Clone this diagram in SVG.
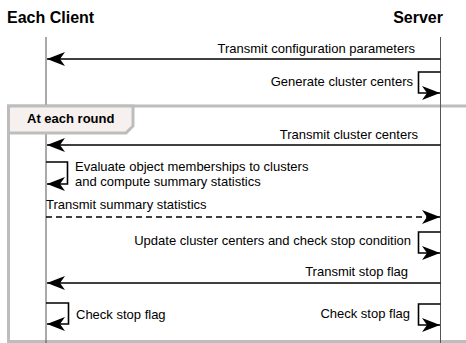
<svg xmlns="http://www.w3.org/2000/svg" width="466" height="343" viewBox="0 0 466 343">
<style>
text{font-family:"Liberation Sans",Arial,Helvetica,sans-serif;fill:#000}
.title{font-size:16px;font-weight:bold}
.lbl{font-size:13px}
.r{text-anchor:end}
.life{stroke:#555;stroke-width:1;fill:none}
.msg{stroke:#000;stroke-width:1.6;fill:none;marker-end:url(#arr)}
.dash{stroke-dasharray:6 4}
</style>
<defs>
<marker id="arr" markerUnits="userSpaceOnUse" markerWidth="19" markerHeight="15" refX="18" refY="7" orient="auto" viewBox="0 0 19 15">
<path d="M18,7 L0,0 L5,7 L0,14 Z" fill="#000"/>
</marker>
</defs>
<rect x="8.5" y="106" width="460" height="235.5" fill="#fff" stroke="#bdbdbd" stroke-width="3"/>
<g id="client">
<text class="title" x="7" y="23">Each Client</text>
<line class="life" x1="46" y1="37" x2="46" y2="343"/>
</g>
<g id="server">
<text class="title r" x="443" y="23">Server</text>
<line class="life" x1="440.5" y1="37" x2="440.5" y2="343"/>
</g>
<g id="frame">
<path d="M8.5,106 H133 V126 L126,133 H8.5 Z" fill="#f6f0ee" stroke="#bdbdbd" stroke-width="3"/>
<text x="27" y="123" style="font-size:13px;font-weight:bold">At each round</text>
</g>
<g id="connectors">
<path class="msg" d="M440.5,59 H47"/>
<text class="lbl r" x="415" y="53">Transmit configuration parameters</text>
<path class="msg" d="M440.5,72 H418.5 V93 H440"/>
<text class="lbl r" x="413" y="86">Generate cluster centers</text>
<path class="msg" d="M440.5,145 H47"/>
<text class="lbl r" x="418" y="139">Transmit cluster centers</text>
<path class="msg" d="M46,162 H67.5 V184 H47"/>
<text class="lbl" x="75" y="171">Evaluate object memberships to clusters</text>
<text class="lbl" x="75" y="186">and compute summary statistics</text>
<text class="lbl" x="46" y="209">Transmit summary statistics</text>
<path class="msg dash" d="M46,217 H440"/>
<path class="msg" d="M440.5,232 H418.5 V253 H440"/>
<text class="lbl r" x="411" y="245">Update cluster centers and check stop condition</text>
<path class="msg" d="M440.5,283 H47"/>
<text class="lbl r" x="408" y="276">Transmit stop flag</text>
<path class="msg" d="M46,303 H68.5 V324 H47"/>
<text class="lbl" x="76" y="319">Check stop flag</text>
<path class="msg" d="M440.5,304 H418.5 V325 H440"/>
<text class="lbl r" x="410" y="318">Check stop flag</text>
</g>
</svg>
